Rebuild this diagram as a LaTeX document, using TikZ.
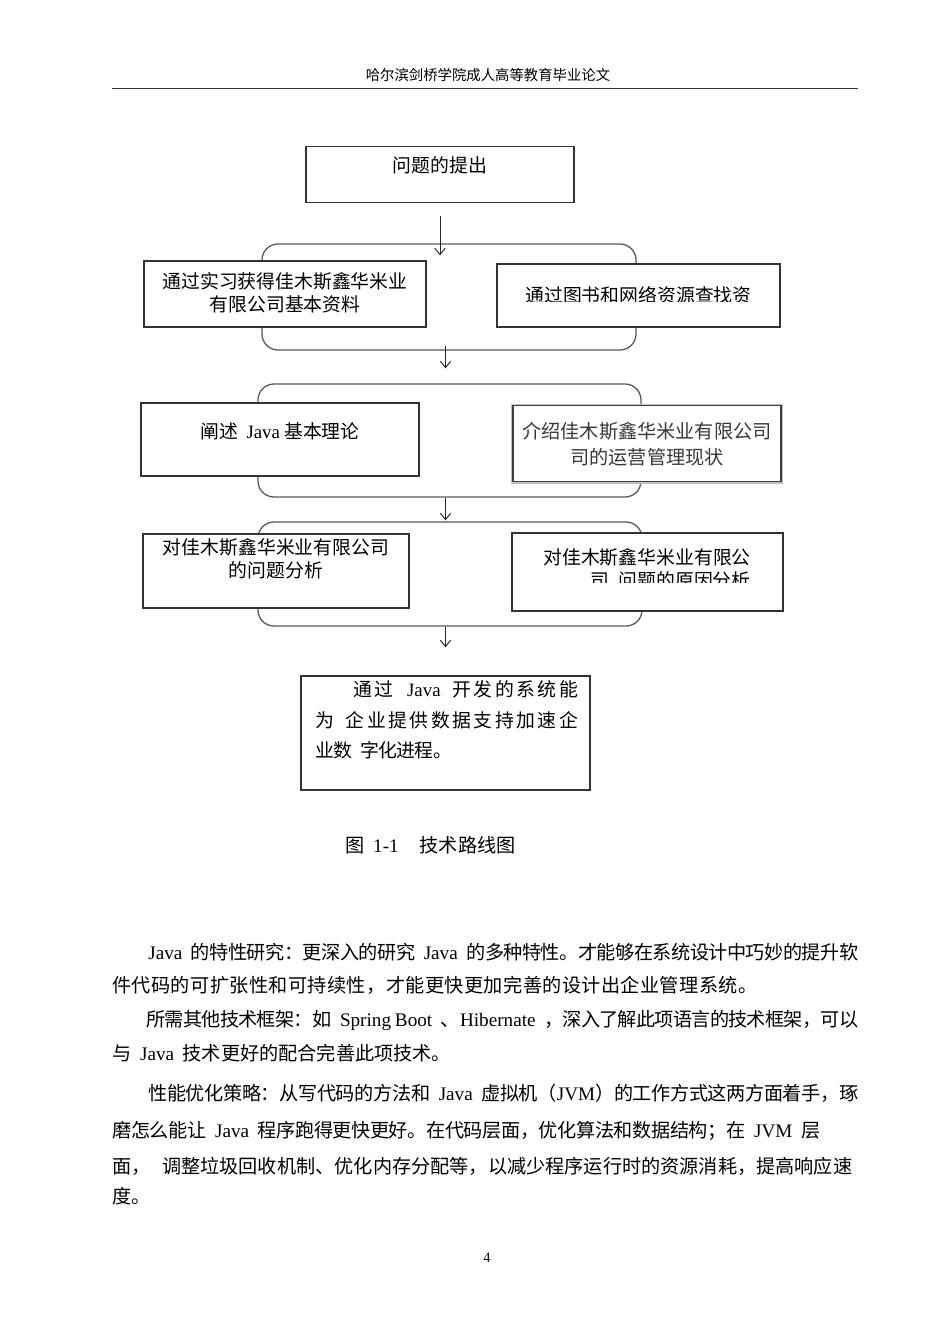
\documentclass[tikz,border=0pt]{standalone}
\usepackage{fontspec}
\setmainfont{Noto Sans CJK SC}
\newfontfamily\latfont{Liberation Serif}
\newcommand\ltn[1]{{\latfont #1}}
\newcommand\gap{\hspace{0.45em}}
\usepackage{tikz}
\usetikzlibrary{positioning,calc}
\usetikzlibrary{arrows.meta}
\colorlet{boxgray}{black!80}
\colorlet{bracegray}{black!65}
\newdimen\px
\px=0.6263pt
\newcommand\boxfont{\fontsize{11.8pt}{13.8pt}\selectfont}
\newcommand\bodyfont{\fontsize{12pt}{14pt}\selectfont}
\newcommand\boxtext[4]{\parbox[c][#2\px][t]{#1\px}{\centering\vspace*{#3\px}#4}}
\tikzstyle{arrow} = [line width=0.6pt,black!85,-{Straight Barb[length=4pt,width=6.5pt]}]
% stretchable glue between CJK characters, so that justified lines can spread
\newcount\cjkc
\newcommand\cjkrange[2]{\cjkc=#1 \loop\XeTeXcharclass\cjkc=7 \ifnum\cjkc<#2 \advance\cjkc by 1 \repeat}
\cjkrange{"3000}{"303F}
\cjkrange{"4E00}{"9FFF}
\cjkrange{"FF00}{"FFEF}
\XeTeXinterchartokenstate=1
\XeTeXinterchartoks 7 7 = {\hskip 0pt plus 2pt minus 0.8pt\relax}

\begin{document}
\begin{tikzpicture}[x=0.6263pt, y=-0.6263pt,
	stage/.style={draw=boxgray, line width=0.8pt, fill=white, inner sep=0pt, font=\boxfont},
	bracketbox/.style={draw=bracegray, line width=0.8pt, rounded corners=10pt, inner sep=0pt},
	bodyline/.style={anchor=base west, inner sep=0pt, font=\bodyfont}]
	
	\useasboundingbox (0,0) rectangle (950,1344);
	\fill[white] (0,0) rectangle (950,1344);
	
	% HEADER
	
	\node[font=\fontsize{9pt}{11pt}\selectfont] (header) at (488,75) {哈尔滨剑桥学院成人高等教育毕业论文};
	\draw[line width=0.6pt, black!80] (112,88) -- (858,88);
	
	% BRACKETS
	
	\node[bracketbox, minimum width=374\px, minimum height=106\px] (g1) at (449,297) {};
	\node[bracketbox, minimum width=383\px, minimum height=113\px] (g2) at (449.5,440.5) {};
	\node[bracketbox, minimum width=384\px, minimum height=104\px] (g3) at (450,574) {};
	
	% STAGES
	
	\node[stage] (q) at (440,174.5) {\boxtext{268}{56}{10}{问题的提出}};
	
	\node[stage] (b1) at (285,294) {\boxtext{282}{66}{12}{通过实习获得佳木斯鑫华米业\\有限公司基本资料}};
	\node[stage, minimum width=283\px, minimum height=63\px] (b2) at (638.5,295.5) {};
	\begin{scope}
		\clip (497,264) rectangle (780,301);
		\node[font=\boxfont] (b2t) at (b2.center) {通过图书和网络资源查找资};
	\end{scope}
	
	\node[stage] (c1) at (280,439.5) {\boxtext{278}{73}{20}{阐述\gap\ltn{Java} 基本理论}};
	\node[stage, draw=black!75, preaction={draw=black!25, line width=2.5pt}] (c2) at (647,443.5)
	{\boxtext{268}{76}{17}{\color{black!78}\fontsize{12pt}{16.3pt}\selectfont 介绍佳木斯鑫华米业有限公司\\司的运营管理现状}};
	
	\node[stage] (d1) at (276,571) {\boxtext{266}{74}{5}{对佳木斯鑫华米业有限公司\\的问题分析}};
	\node[stage, minimum width=271\px, minimum height=78\px] (d2) at (647.5,572) {};
	\begin{scope}
		\clip (512,533) rectangle (783,582);
		\node[font=\fontsize{11.8pt}{14.4pt}\selectfont, align=right, inner sep=0pt, anchor=east] (d2t) at (751,568.5)
		{对佳木斯鑫华米业有限公\\司\hspace{0.3em} 问题的原因分析};
	\end{scope}
	
	\node[stage] (e) at (445.5,733) {\parbox[c][114\px][t]{289\px}{\vspace*{5\px}\baselineskip=30.5\px
			\hspace*{14\px}\makebox[263\px][s]{\hspace*{38\px}通过\hspace{14\px}\ltn{Java}\hspace{12\px}开发的系统能}\\
			\hspace*{14\px}\makebox[263\px][s]{为\hspace{12\px}企业提供数据支持加速企}\\
			\hspace*{14\px}\makebox[137\px][s]{业数\hspace{8\px}字化进程。}}};
	
	% ARROWS
	
	\draw[arrow, shorten <=13\px, shorten >=-12\px] (q.south) -- (q.south |- g1.north);
	\draw[arrow, shorten <=-5\px, shorten >=15\px] (g1.south -| e.north) -- (g2.north -| e.north);
	\draw[arrow, shorten >=1\px] (g2.south -| e.north) -- (g3.north -| e.north);
	\draw[arrow, shorten >=28\px] (g3.south -| e.north) -- (e.north);
	
	% CAPTION AND TEXT
	
	\node[font=\bodyfont] (caption) at (430.5,845) {图\gap\ltn{1-1}\hspace{1.1em}技术路线图};
	
	\node[bodyline] (p1) at (148,959) {\makebox[710\px][s]{\ltn{Java}\gap 的特性研究：更深入的研究\gap\ltn{Java}\gap 的多种特性。才能够在系统设计中巧妙的提升软}};
	\node[bodyline] (p2) at (112,992) {\makebox[645\px][s]{件代码的可扩张性和可持续性，才能更快更加完善的设计出企业管理系统。}};
	\node[bodyline] (p3) at (146,1026) {\makebox[712\px][s]{所需其他技术框架：如\gap\ltn{Spring Boot}\gap 、\ltn{Hibernate}\gap ，深入了解此项语言的技术框架，可以}};
	\node[bodyline] (p4) at (112,1060) {与\gap\ltn{Java}\gap 技术更好的配合完善此项技术。};
	\node[bodyline] (p5) at (148,1100) {\makebox[710\px][s]{性能优化策略：从写代码的方法和\gap\ltn{Java}\gap 虚拟机（\ltn{JVM}）的工作方式这两方面着手，琢}};
	\node[bodyline] (p6) at (112,1137) {\makebox[708\px][s]{磨怎么能让\gap\ltn{Java}\gap 程序跑得更快更好。在代码层面，优化算法和数据结构；在\gap\ltn{JVM}\gap 层}};
	\node[bodyline] (p7) at (112,1173) {\makebox[740\px][s]{面，\hspace{0.6em}调整垃圾回收机制、优化内存分配等，以减少程序运行时的资源消耗，提高响应速}};
	\node[bodyline] (p8) at (112,1203) {度。};
	
	\node[font=\fontsize{9pt}{11pt}\selectfont\latfont] (pagenum) at (487,1258) {4};
	
\end{tikzpicture}
\end{document}
